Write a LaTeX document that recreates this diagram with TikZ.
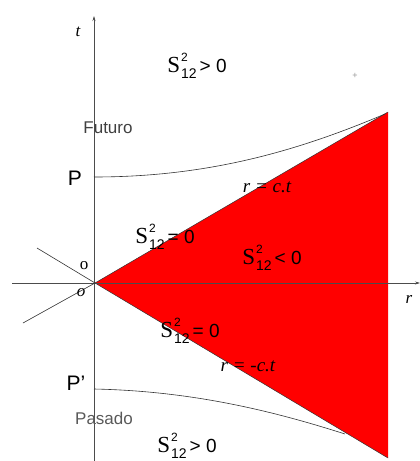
\documentclass[tikz,border=0pt]{standalone}
\usepackage{fontspec}
\usetikzlibrary{arrows.meta}
\setmainfont{Liberation Sans}
\newfontfamily\serifS{Liberation Serif}
\newcommand\Slab[1]{{\serifS\fontsize{23}{23}\selectfont S}\kern1pt\rlap{\raisebox{0.55em}{\fontsize{12}{12}\selectfont 2}}\raisebox{-0.35em}{\fontsize{14}{14}\selectfont 12}\kern3pt#1}
\begin{document}
\begin{tikzpicture}[x=1pt,y=-1pt,
  lbl/.style={inner sep=0pt, font=\fontsize{17}{19}\selectfont},
  slbl/.style={inner sep=0pt, font=\fontsize{19}{21}\selectfont},
  axis/.style={draw=black!70, line width=0.6pt},
  curve/.style={draw=black!80, line width=0.6pt}]
\useasboundingbox (0,0) rectangle (420,461);
\coordinate (O) at (95,283);
\coordinate (UR) at (388,112);
\coordinate (LR) at (388,458);
\fill[red] (O) -- (UR) -- (LR) -- cycle;
\draw[black!80, line width=0.5pt] (O) -- (UR);
\draw[black!80, line width=0.5pt] (O) -- (LR);
% axes
\coordinate (tb) at (94,461);
\coordinate (tt) at (94,16);
\coordinate (rl) at (12,283);
\coordinate (rr) at (420,283);
\draw[axis,-{Stealth[length=5pt,width=3pt]}] (tb) -- (tt);
\draw[axis,-{Stealth[length=5pt,width=3pt]}] (rl) -- (rr);
% left lines
\coordinate (ul) at (37,248);
\coordinate (ll) at (23,323);
\draw[black!80, line width=0.6pt] (ul) -- (O) -- (ll);
% curves
\coordinate (P) at (94,177);
\coordinate (Pp) at (94,389);
\coordinate (Pend) at (385,114);
\coordinate (Ppend) at (345,434);
\draw[curve] (P) .. controls (210,177) and (300,150) .. (Pend);
\draw[curve] (Pp) .. controls (190,391) and (270,410) .. (Ppend);
% labels
\node[lbl] (t) at (78,32) {\serifS\itshape t};
\node[lbl] (r) at (409,299) {\serifS\itshape r};
\node[lbl, font=\fontsize{21}{23}\selectfont] (Pl) at (75,178) {P};
\node[lbl, font=\fontsize{21}{23}\selectfont] (Ppl) at (76,383) {P'};
\node[lbl, text=black!75] (fut) at (108,128) {Futuro};
\node[lbl, text=black!65] (pas) at (104,418) {Pasado};
\node[lbl] (o1) at (84,266) {\serifS o};
\node[lbl] (o2) at (81,293) {\serifS\itshape o};
\node[slbl] (s1) at (197,66) {\Slab{> 0}};
\node[slbl] (s2) at (165,237) {\Slab{= 0}};
\node[slbl] (s3) at (272,258) {\Slab{< 0}};
\node[slbl] (s4) at (190,331) {\Slab{= 0}};
\node[slbl] (s5) at (187,446) {\Slab{> 0}};
\node[lbl, font=\fontsize{19}{21}\selectfont] (rc1) at (267,187) {\serifS\itshape r = c.t};
\node[lbl, font=\fontsize{19}{21}\selectfont] (rc2) at (248,366) {\serifS\itshape r = -c.t};
\node[lbl, text=black!40, font=\fontsize{9}{9}\selectfont] (plus) at (355,76) {+};
\end{tikzpicture}
\end{document}
